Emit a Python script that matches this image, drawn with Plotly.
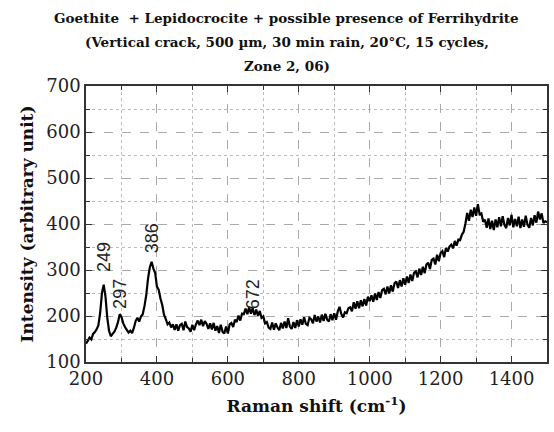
import plotly.graph_objects as go

# Raman spectrum sampled every 5 cm-1 from 200 to 1500
shift_start = 200
shift_step = 5
intensity = [
    140, 146, 153, 149, 161, 165, 171, 180, 207, 250,
    268, 242, 196, 168, 156, 161, 166, 174, 186, 204,
    198, 184, 176, 170, 164, 168, 163, 174, 189, 196,
    188, 199, 204, 222, 246, 282, 306, 318, 303, 294,
    264, 257, 238, 224, 203, 193, 182, 186, 175, 182,
    170, 182, 168, 180, 183, 169, 188, 176, 173, 166,
    181, 169, 182, 190, 180, 192, 178, 189, 183, 172,
    184, 171, 185, 168, 178, 163, 181, 166, 162, 177,
    162, 182, 185, 176, 192, 187, 201, 190, 205, 204,
    216, 204, 219, 205, 217, 202, 214, 200, 211, 196,
    199, 184, 187, 175, 172, 186, 170, 184, 175, 169,
    185, 173, 188, 174, 195, 177, 172, 187, 174, 191,
    177, 193, 181, 197, 183, 180, 196, 193, 184, 202,
    188, 199, 186, 203, 189, 205, 192, 188, 204, 191,
    206, 192, 210, 220, 204, 197, 208, 206, 217, 219,
    210, 230, 216, 232, 217, 234, 221, 237, 223, 242,
    232, 245, 231, 249, 235, 252, 239, 256, 259, 247,
    264, 249, 267, 253, 271, 275, 261, 278, 264, 282,
    268, 286, 272, 290, 276, 294, 297, 284, 303, 289,
    307, 293, 312, 316, 302, 322, 325, 312, 333, 319,
    337, 341, 328, 348, 340, 351, 355, 347, 363, 353,
    366, 365, 377, 383, 401, 424, 407, 431, 415, 436,
    418, 443, 421, 423, 405, 409, 392, 412, 389, 407,
    387, 410, 393, 415, 395, 417, 398, 391, 413, 397,
    420, 393, 411, 395, 416, 391, 410, 394, 418, 398,
    392, 413, 397, 419, 403, 427, 410, 423, 402, 406,
    404,
]
raman_shift = [shift_start + shift_step * i for i in range(len(intensity))]

# Peak labels (band position, label height)
peak_pos = [249, 297, 386, 672]
peak_label_y = [292, 212, 332, 211]

title_lines = [
    "Goethite  + Lepidocrocite + possible presence of Ferrihydrite",
    "(Vertical crack, 500 \u00b5m, 30 min rain, 20\u00b0C, 15 cycles,",
    "Zone 2, 06)",
]
title_line_y = [1.246, 1.159, 1.0725]

fig = go.Figure()
fig.add_trace(go.Scatter(
    x=raman_shift, y=intensity, mode="lines",
    line=dict(color="black", width=2.2, simplify=False), showlegend=False,
))

for pos, ly in zip(peak_pos, peak_label_y):
    fig.add_annotation(
        x=pos, y=ly, text=str(pos), showarrow=False, textangle=-90,
        xanchor="center", yanchor="bottom",
        font=dict(family="Liberation Sans", size=18, color="#222"),
    )

serif = "DejaVu Serif"

for line, ty in zip(title_lines, title_line_y):
    fig.add_annotation(
        xref="paper", yref="paper", x=0.435, y=ty, text=line,
        showarrow=False, xanchor="center", yanchor="middle",
        font=dict(family=serif, size=13.5, color="#111", weight="bold"),
    )

axis_common = dict(
    showline=True, linecolor="#333", linewidth=1.5, mirror="allticks",
    ticks="inside", ticklen=6, tickwidth=1.2, tickcolor="#333",
    showgrid=True, gridcolor="#aaa", griddash="dash", gridwidth=1,
    zeroline=False,
    tickfont=dict(family=serif, size=18, color="#222"),
)

fig.update_xaxes(
    range=[200, 1500], dtick=200, tick0=200,
    minor=dict(dtick=100, ticks="inside", ticklen=4, tickcolor="#333",
               showgrid=True, gridcolor="#bbb", griddash="dot"),
    title=dict(text="Raman shift (cm<sup>-1</sup>)", standoff=12,
               font=dict(family=serif, size=17, color="#111", weight="bold")),
    **axis_common,
)
fig.update_yaxes(
    range=[100, 700], dtick=100, tick0=100,
    minor=dict(dtick=50, ticks="inside", ticklen=4, tickcolor="#333",
               showgrid=True, gridcolor="#bbb", griddash="dot"),
    title=dict(text="Intensity (arbitrary unit)", standoff=8,
               font=dict(family=serif, size=17, color="#111", weight="bold")),
    **axis_common,
)

fig.update_layout(
    width=554, height=432,
    margin=dict(l=86, r=5, t=86, b=70),
    plot_bgcolor="white", paper_bgcolor="white",
)

fig.write_html("out.html")
